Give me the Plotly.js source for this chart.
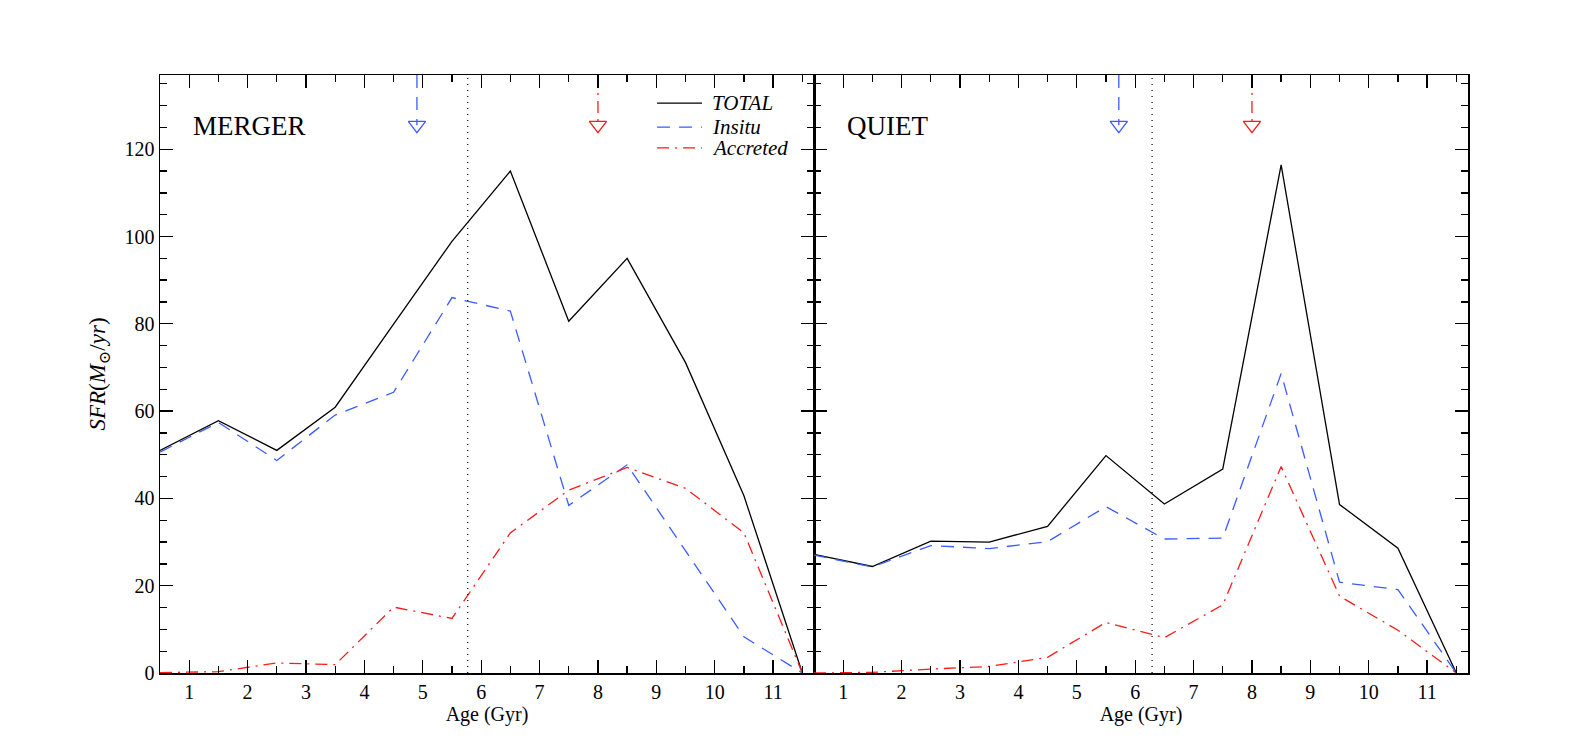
<!DOCTYPE html>
<html>
<head>
<meta charset="utf-8">
<script src="https://cdn.plot.ly/plotly-3.0.1.min.js"></script>
<style>
  html, body { margin: 0; padding: 0; background: #fff; }
  #sfr { width: 1596px; height: 747px; }
</style>
</head>
<body>
<div id="sfr"></div>
<script>
// age bins (Gyr) shared by both panels
var ageBins = [0.5, 1.5, 2.5, 3.5, 4.5, 5.5, 6.5, 7.5, 8.5, 9.5, 10.5, 11.5];

// MERGER panel
var mergerTotal    = [51.0, 57.8, 51.0, 60.9, 79.9, 98.9, 115.0, 80.6, 95.0, 71.1, 40.6, 0];
var mergerInsitu   = [50.6, 57.4, 48.7, 59.1, 64.3, 86.0, 82.9, 38.4, 47.7, 28.0, 8.3, 0];
var mergerAccreted = [0.1, 0.3, 2.3, 1.9, 15.1, 12.5, 32.1, 41.9, 47.1, 42.3, 32.1, 0];

// QUIET panel
var quietTotal    = [27.2, 24.4, 30.2, 30.0, 33.6, 49.8, 38.7, 46.7, 116.4, 38.6, 28.6, 0];
var quietInsitu   = [27.0, 24.3, 29.2, 28.5, 30.1, 38.1, 30.7, 30.9, 68.6, 20.8, 19.1, 0];
var quietAccreted = [0, 0.15, 0.9, 1.5, 3.6, 11.6, 8.1, 15.6, 47.3, 17.6, 9.8, 0];

// characteristic ages marked on each panel: [merger, quiet]
var insituArrowAge   = [4.9, 5.72];
var accretedArrowAge = [8.0, 8.0];
var dividerAge       = [5.77, 6.29];
var arrowTop = 137, arrowTip = 125.5;

var seriesNames = ['TOTAL', 'Insitu', 'Accreted'];
var panelNames = ['MERGER', 'QUIET'];
var xTickVals = [1, 2, 3, 4, 5, 6, 7, 8, 9, 10, 11];
var yTickVals = [0, 20, 40, 60, 80, 100, 120];

var serif = "'Liberation Serif', 'DejaVu Serif', serif";
var blue = '#3a5cff', red = '#ff1a1a';
var styles = [
  {color: 'black', width: 1.3, dash: 'solid'},
  {color: blue, width: 1.3, dash: '13px,9px'},
  {color: red, width: 1.3, dash: '12px,6px,2px,6px'}
];

var traces = [];

function panel(xa, ya, series) {
  series.forEach(function (vals, k) {
    traces.push({x: ageBins, y: vals, xaxis: xa, yaxis: ya, mode: 'lines', name: seriesNames[k],
      showlegend: false, line: styles[k]});
  });
}

function markers(xa, ya, i) {
  // vertical dotted divider
  traces.push({x: [dividerAge[i], dividerAge[i]], y: [0, arrowTop], xaxis: xa, yaxis: ya,
    mode: 'lines', showlegend: false, hoverinfo: 'skip',
    line: {color: 'black', width: 1.2, dash: '1px,5px'}});
  // arrows
  [[insituArrowAge[i], styles[1]], [accretedArrowAge[i], styles[2]]].forEach(function (a) {
    traces.push({x: [a[0], a[0]], y: [arrowTop, arrowTip], xaxis: xa, yaxis: ya,
      mode: 'lines', showlegend: false, hoverinfo: 'skip', line: a[1]});
    traces.push({x: [a[0]], y: [arrowTip], xaxis: xa, yaxis: ya,
      mode: 'markers', showlegend: false, hoverinfo: 'skip',
      marker: {symbol: 'triangle-down-open', size: 15, color: a[1].color, line: {width: 1.3, color: a[1].color}}});
  });
}

panel('x', 'y', [mergerTotal, mergerInsitu, mergerAccreted]);
panel('x2', 'y2', [quietTotal, quietInsitu, quietAccreted]);
markers('x', 'y', 0);
markers('x2', 'y2', 1);

function xAxis(domain, anchor) {
  return {
    domain: domain, anchor: anchor, range: [0.5, 11.7],
    tickmode: 'array', tickvals: xTickVals,
    ticks: 'inside', ticklen: 13, tickwidth: 1.3, tickcolor: 'black',
    minor: {dtick: 0.5, tick0: 0, ticks: 'inside', ticklen: 7, tickwidth: 1.3, tickcolor: 'black', showgrid: false},
    showline: true, linecolor: 'black', linewidth: 1.5, mirror: 'allticks',
    showgrid: false, zeroline: false,
    tickfont: {family: serif, size: 20, color: 'black'},
    title: {text: 'Age (Gyr)', font: {family: serif, size: 20, color: 'black'}, standoff: 4}
  };
}

function yAxis(anchor, labels) {
  return {
    anchor: anchor, range: [0, 137],
    tickmode: 'array', tickvals: yTickVals, showticklabels: labels,
    ticks: 'inside', ticklen: 13, tickwidth: 1.3, tickcolor: 'black',
    minor: {dtick: 5, tick0: 0, ticks: 'inside', ticklen: 7, tickwidth: 1.3, tickcolor: 'black', showgrid: false},
    showline: true, linecolor: 'black', linewidth: 1.5, mirror: 'allticks',
    showgrid: false, zeroline: false,
    tickfont: {family: serif, size: 20, color: 'black'}
  };
}

// hand-placed legend inside the MERGER panel (paper coordinates)
var legendRowsY = [0.953, 0.913, 0.878];
var shapes = [], annotations = [];
seriesNames.forEach(function (name, k) {
  shapes.push({type: 'line', xref: 'paper', yref: 'paper',
    x0: 0.380, x1: 0.4144, y0: legendRowsY[k], y1: legendRowsY[k], line: styles[k]});
  annotations.push({text: '<i>' + name + '</i>', xref: 'paper', yref: 'paper',
    x: 0.4205, y: legendRowsY[k], xanchor: 'left', yanchor: 'middle', showarrow: false,
    font: {family: serif, size: 21, color: 'black'}});
});
panelNames.forEach(function (name, i) {
  annotations.push({text: name, xref: 'paper', yref: 'paper', x: 0.0235 + 0.5 * i, y: 0.915,
    xanchor: 'left', yanchor: 'middle', showarrow: false,
    font: {family: serif, size: 27, color: 'black'}});
});

var layout = {
  width: 1596, height: 747,
  margin: {l: 160, r: 128, t: 75, b: 74},
  paper_bgcolor: 'white', plot_bgcolor: 'white',
  showlegend: false,
  xaxis: xAxis([0, 0.5], 'y'),
  xaxis2: xAxis([0.5, 1], 'y2'),
  yaxis: yAxis('x', true),
  yaxis2: yAxis('x2', false),
  shapes: shapes,
  annotations: annotations
};
layout.yaxis.title = {text: '<i>SFR</i>(<i>M</i><sub>⊙</sub>/<i>yr</i>)', font: {family: serif, size: 23, color: 'black'}, standoff: 12};

Plotly.newPlot('sfr', traces, layout, {staticPlot: true, displayModeBar: false});
</script>
</body>
</html>
